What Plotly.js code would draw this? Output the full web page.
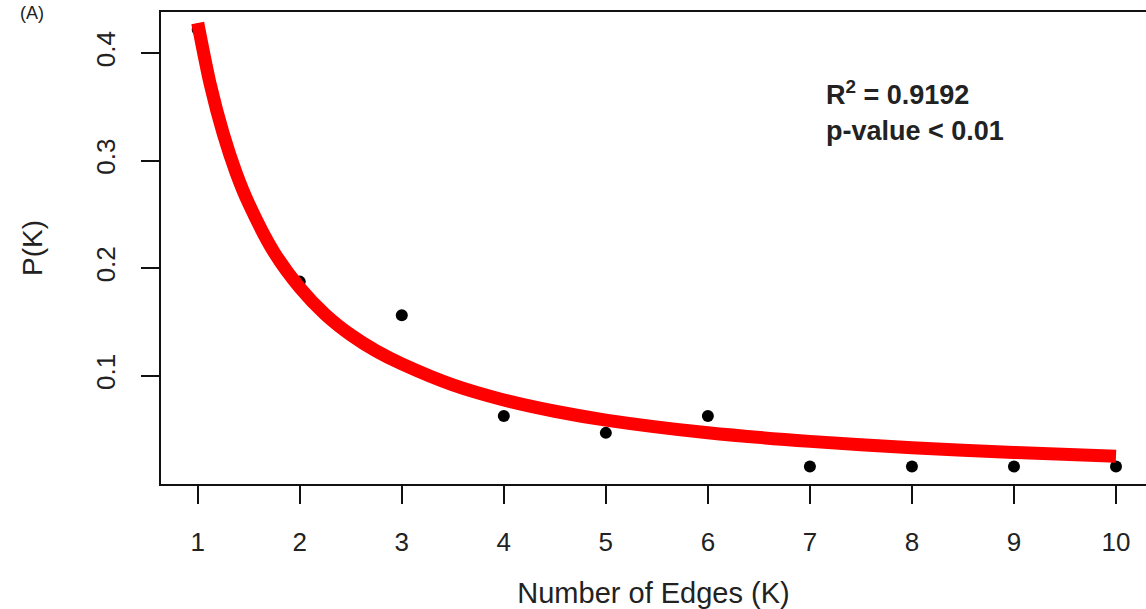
<!DOCTYPE html>
<html>
<head>
<meta charset="utf-8">
<script src="https://cdn.plot.ly/plotly-3.0.1.min.js"></script>
<style>html,body{margin:0;padding:0;background:#fff;}#chart{width:1146px;height:609px;}</style>
</head>
<body>
<div id="chart"></div>
<script>
// Observed degree distribution
const edgesK = [1, 2, 3, 4, 5, 6, 7, 8, 9, 10];
const probK = [0.4219, 0.1875, 0.1563, 0.0625, 0.0469, 0.0625, 0.0156, 0.0156, 0.0156, 0.0156];

// Fitted curve, values
const fitK = [1, 1.125, 1.25, 1.375, 1.5, 1.75, 2, 2.25, 2.5, 2.75, 3, 3.5, 4, 4.5, 5, 6, 7, 8, 9, 10];
const fitP = [0.428, 0.370, 0.325, 0.289, 0.260, 0.2145, 0.182, 0.157, 0.138, 0.123, 0.111, 0.0915, 0.0775, 0.067, 0.0588, 0.047, 0.039, 0.033, 0.0287, 0.0252];

const xTicks = [1, 2, 3, 4, 5, 6, 7, 8, 9, 10];
const yTicks = [0.1, 0.2, 0.3, 0.4];
const yTickText = ['0.1', '0.2', '0.3', '0.4'];

const fontFam = 'Liberation Sans, Arial, Helvetica, sans-serif';

const traces = [
  {
    x: edgesK, y: probK, type: 'scatter', mode: 'markers',
    marker: {color: '#000', size: 12},
    hoverinfo: 'skip'
  },
  {
    x: fitK, y: fitP, type: 'scatter', mode: 'lines',
    line: {color: '#ff0000', width: 13, shape: 'spline', smoothing: 0.8},
    hoverinfo: 'skip'
  }
];

const layout = {
  width: 1146, height: 609,
  margin: {l: 161, r: 0, t: 12, b: 125},
  paper_bgcolor: '#fff', plot_bgcolor: '#fff',
  showlegend: false,
  font: {family: fontFam, color: '#222'},
  xaxis: {
    range: [0.64, 10.294],
    tickvals: xTicks, ticktext: xTicks.map(String),
    ticks: 'outside', ticklen: 18, tickwidth: 2, tickcolor: '#111',
    showline: true, linecolor: '#111', linewidth: 2, mirror: true,
    showgrid: false, zeroline: false,
    tickfont: {size: 26, family: fontFam, color: '#222'},
    ticklabelstandoff: 16,
    title: {text: 'Number of Edges (K)', font: {size: 29, family: fontFam, color: '#222'}, standoff: 28}
  },
  yaxis: {
    range: [-0.000625, 0.438125],
    tickvals: yTicks, ticktext: yTickText,
    tickangle: -90,
    ticks: 'outside', ticklen: 18, tickwidth: 2, tickcolor: '#111',
    showline: true, linecolor: '#111', linewidth: 2, mirror: false,
    showgrid: false, zeroline: false,
    tickfont: {size: 26, family: fontFam, color: '#222'},
    ticklabelstandoff: 16,
    title: {text: 'P(K)', font: {size: 28, family: fontFam, color: '#222'}, standoff: 40}
  },
  annotations: [
    {
      xref: 'paper', yref: 'paper', x: (824 - 161) / 985, y: (484 - 93) / 472,
      xanchor: 'left', yanchor: 'middle', showarrow: false,
      text: '<b>R<sup>2</sup> = 0.9192</b>',
      font: {size: 27, family: fontFam, color: '#222'}
    },
    {
      xref: 'paper', yref: 'paper', x: (824 - 161) / 985, y: (484 - 131) / 472,
      xanchor: 'left', yanchor: 'middle', showarrow: false,
      text: '<b>p-value &lt; 0.01</b>',
      font: {size: 27, family: fontFam, color: '#222'}
    },
    {
      xref: 'paper', yref: 'paper', x: (46 - 161) / 985, y: (484 - 1) / 472,
      xanchor: 'right', yanchor: 'top', showarrow: false,
      text: '(A)',
      font: {size: 18, family: fontFam, color: '#222'}
    }
  ]
};

Plotly.newPlot('chart', traces, layout, {displayModeBar: false, staticPlot: true});
</script>
</body>
</html>
